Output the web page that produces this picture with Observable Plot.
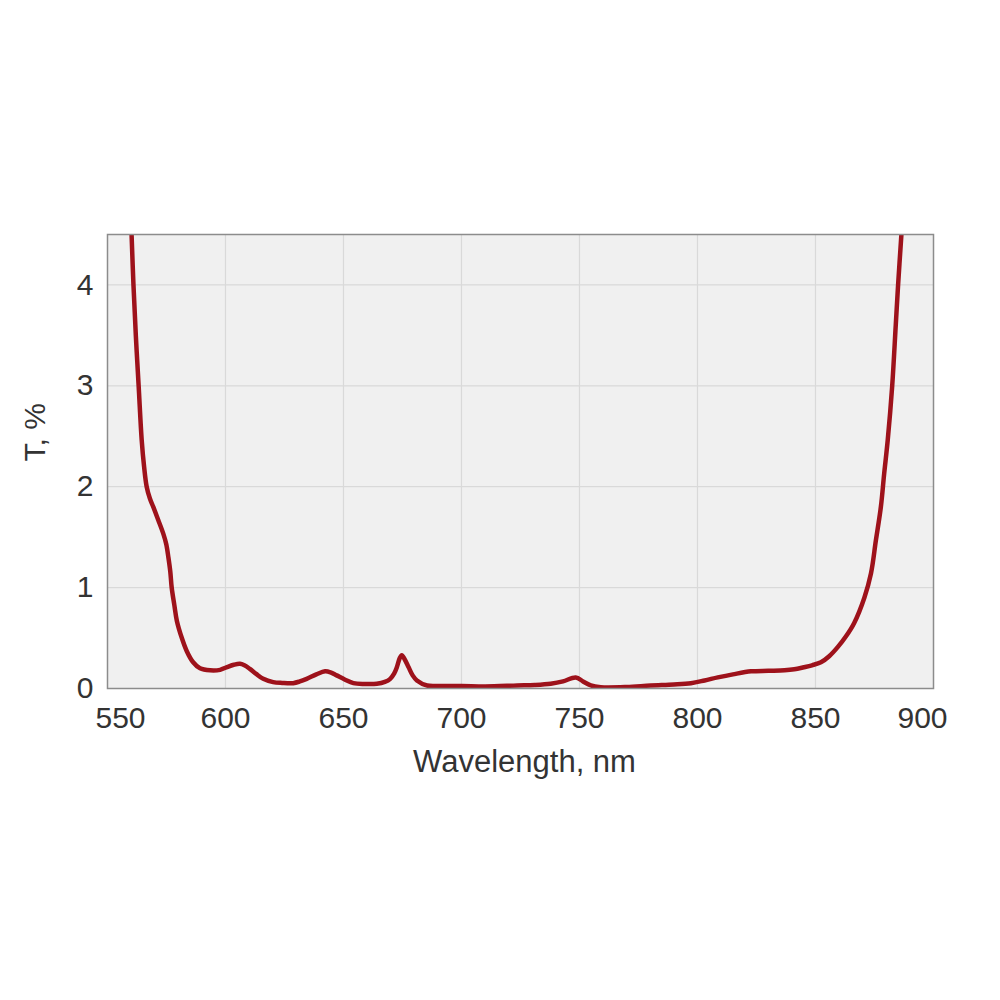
<!DOCTYPE html>
<html>
<head>
<meta charset="utf-8">
<script src="https://cdn.jsdelivr.net/npm/d3@7"></script>
<script src="https://cdn.jsdelivr.net/npm/@observablehq/plot@0.6"></script>
<style>
  html, body { margin: 0; padding: 0; background: #ffffff; }
  #chart { width: 1000px; height: 1000px; }
</style>
</head>
<body>
<div id="chart"></div>
<script>
const wavelength = [
  560.2, 561.0, 562.0, 563.2, 564.5, 565.5, 566.6, 568.0, 569.4, 571.5,
  573.7, 574.9, 575.8, 576.6, 577.2, 578.3, 579.4, 581.5, 583.6, 586.3,
  589.2, 593.5, 597.7, 600.4, 603.5, 606.1, 608.0, 610.3, 613.0, 616.0,
  620.2, 624.0, 628.7, 631.5, 634.4, 638.5, 642.2, 644.5, 647.1, 650.5,
  654.2, 659.0, 664.1, 667.5, 669.8, 671.5, 672.6, 673.8, 674.7, 675.9,
  677.6, 679.3, 681.1, 685.4, 690.0, 700.0, 710.0, 723.6, 731.0, 737.8,
  743.0, 748.4, 751.5, 754.8, 759.0, 770.0, 780.2, 790.0, 797.2, 803.0,
  808.6, 815.0, 822.7, 830.0, 836.9, 841.0, 845.0, 848.5, 852.3, 855.8,
  859.4, 863.0, 866.4, 870.7, 873.5, 875.6, 877.7, 879.1, 880.6, 882.5,
  884.0, 885.0, 886.4
];
const transmission = [
  4.5, 4.0, 3.5, 3.0, 2.46, 2.2, 2.0, 1.88, 1.80, 1.67,
  1.53, 1.43, 1.30, 1.16, 1.0, 0.83, 0.67, 0.50, 0.37, 0.26,
  0.20, 0.18, 0.185, 0.21, 0.235, 0.245, 0.23, 0.195, 0.145, 0.096,
  0.063, 0.055, 0.053, 0.07, 0.096, 0.14, 0.17, 0.16, 0.13, 0.09,
  0.053, 0.045, 0.047, 0.065, 0.096, 0.15, 0.21, 0.30, 0.33, 0.29,
  0.21, 0.13, 0.08, 0.03, 0.025, 0.025, 0.02, 0.03, 0.035, 0.047,
  0.07, 0.11, 0.07, 0.03, 0.013, 0.015, 0.03, 0.04, 0.053, 0.08,
  0.11, 0.14, 0.17, 0.175, 0.18, 0.19, 0.21, 0.23, 0.26, 0.32,
  0.41, 0.52, 0.65, 0.90, 1.14, 1.47, 1.80, 2.13, 2.46, 3.0,
  3.6, 4.0, 4.5
];
const xTicksMiddle = [600, 650, 700, 750, 800, 850];
const xTickFirst = [550];
const xTickLast = [900];
const xGrid = [600, 650, 700, 750, 800, 850];
const yTicks = [0, 1, 2, 3, 4];
const yGrid = [1, 2, 3, 4];
const xLabel = "Wavelength, nm";
const yLabel = "T, %";

const data = wavelength.map((w, i) => ({w, t: transmission[i]}));

const font = "'Liberation Sans', Arial, Helvetica, sans-serif";
const tickColor = "#333333";

const plot = Plot.plot({
  width: 1000,
  height: 1000,
  marginLeft: 107,
  marginRight: 67,
  marginTop: 234,
  marginBottom: 312,
  style: {fontFamily: font, background: "#ffffff"},
  x: {domain: [550, 900], axis: null},
  y: {domain: [0, 4.5], axis: null},
  marks: [
    Plot.frame({fill: "#f0f0f0", stroke: "none"}),
    Plot.ruleX(xGrid, {stroke: "#d9d9d9", strokeWidth: 1.2}),
    Plot.ruleY(yGrid, {stroke: "#d9d9d9", strokeWidth: 1.2}),
    Plot.line(data, {x: "w", y: "t", stroke: "#9e121b", strokeWidth: 4.5, curve: "catmull-rom", clip: true}),
    Plot.frame({stroke: "#8c8c8c", strokeWidth: 1.5}),
    Plot.text(xTicksMiddle, {x: d => d, frameAnchor: "bottom", dy: 30, text: d => String(d), fontSize: 30, fill: tickColor, lineAnchor: "middle"}),
    Plot.text(xTickFirst, {x: d => d, frameAnchor: "bottom", dy: 30, dx: 13, text: d => String(d), fontSize: 30, fill: tickColor, lineAnchor: "middle"}),
    Plot.text(xTickLast, {x: d => d, frameAnchor: "bottom", dy: 30, dx: -11, text: d => String(d), fontSize: 30, fill: tickColor, lineAnchor: "middle"}),
    Plot.text(yTicks, {y: d => d, frameAnchor: "left", dx: -14, textAnchor: "end", text: d => String(d), fontSize: 30, fill: tickColor, lineAnchor: "middle"}),
    Plot.text([xLabel], {frameAnchor: "bottom", dy: 74, dx: 4, text: d => d, fontSize: 31, fill: tickColor, lineAnchor: "middle"}),
    Plot.text([yLabel], {frameAnchor: "left", dx: -72, rotate: -90, text: d => d, fontSize: 30, fill: tickColor, lineAnchor: "middle"})
  ]
});
document.getElementById("chart").appendChild(plot);
</script>
</body>
</html>
